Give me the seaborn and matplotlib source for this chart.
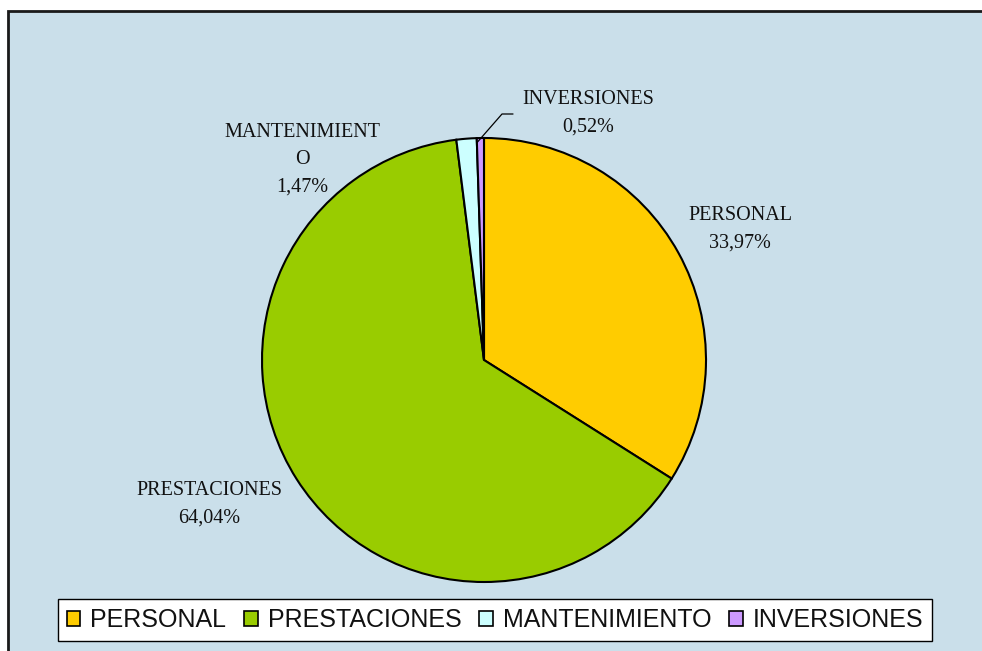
import matplotlib
matplotlib.use("Agg")
import matplotlib.pyplot as plt
from matplotlib.patches import Patch, Rectangle
import numpy as np
import seaborn as sns

# Budget distribution by expense category
categories = ["PERSONAL", "PRESTACIONES", "MANTENIMIENTO", "INVERSIONES"]
shares = [33.97, 64.04, 1.47, 0.52]
slice_labels = ["PERSONAL", "PRESTACIONES", "MANTENIMIENT\nO", "INVERSIONES"]
colors = sns.color_palette(["#FFCC00", "#99CC00", "#CCFFFF", "#CC99FF"])

sns.set_theme(style="white")
plt.rcParams["font.family"] = ["Liberation Serif", "DejaVu Sans"]

W, H = 982, 651
fig = plt.figure(figsize=(W / 100, H / 100), dpi=100)
fig.patch.set_facecolor("white")

# plot area panel
fig.patches.append(Rectangle((8 / W, -0.1), 1.2, 1.1 - 11 / H,
                             transform=fig.transFigure, facecolor="#CADFEA",
                             edgecolor="#1a1a1a", linewidth=2, zorder=-5))

cx, cy, r = 484, 360, 222
ax = fig.add_axes([(cx - r) / W, (H - cy - r) / H, 2 * r / W, 2 * r / H])
ax.set_zorder(2)
ax.patch.set_alpha(0)

wedges, _ = ax.pie(shares, colors=colors, startangle=90, counterclock=False,
                   radius=1, wedgeprops=dict(edgecolor="black", linewidth=1.5))
ax.set_xlim(-1, 1)
ax.set_ylim(-1, 1)
ax.set_aspect("equal")
ax.axis("off")

def px(x, y):
    return ((x - cx) / r, (cy - y) / r)

label_pos = [px(740, 229), px(209, 504), px(302, 160), px(588, 113)]
for lab, val, pos in zip(slice_labels, shares, label_pos):
    txt = f"{lab}\n{val:.2f}%".replace(".", ",")
    ax.text(pos[0], pos[1], txt, ha="center", va="center", fontsize=14.5,
            color="#111111", linespacing=1.6, clip_on=False)

# leader line for the smallest slice
w = wedges[3]
mid = np.deg2rad((w.theta1 + w.theta2) / 2)
x0, y0 = np.cos(mid) * 0.98 - 0.015, np.sin(mid) * 0.98
xa, ya = px(502, 114)
xb, yb = px(513, 114)
ax.plot([x0, xa, xb], [y0, ya, yb], color="black", lw=0.9, clip_on=False)

handles = [Patch(facecolor=c, edgecolor="black", linewidth=1.2) for c in colors]
leg = fig.legend(handles, categories, loc="center", ncol=4,
                 bbox_to_anchor=(495 / W, 1 - 620 / H),
                 prop={"family": "Liberation Sans", "size": 18},
                 handlelength=0.55, handleheight=0.55, handletextpad=0.4,
                 columnspacing=0.7, borderpad=0.35, fancybox=False,
                 frameon=True, framealpha=1, edgecolor="black")
leg.get_frame().set_linewidth(1.0)
leg.set_zorder(3)
for t in leg.get_texts():
    t.set_color("#111111")

fig.savefig("out.png", dpi=100, facecolor="white")
